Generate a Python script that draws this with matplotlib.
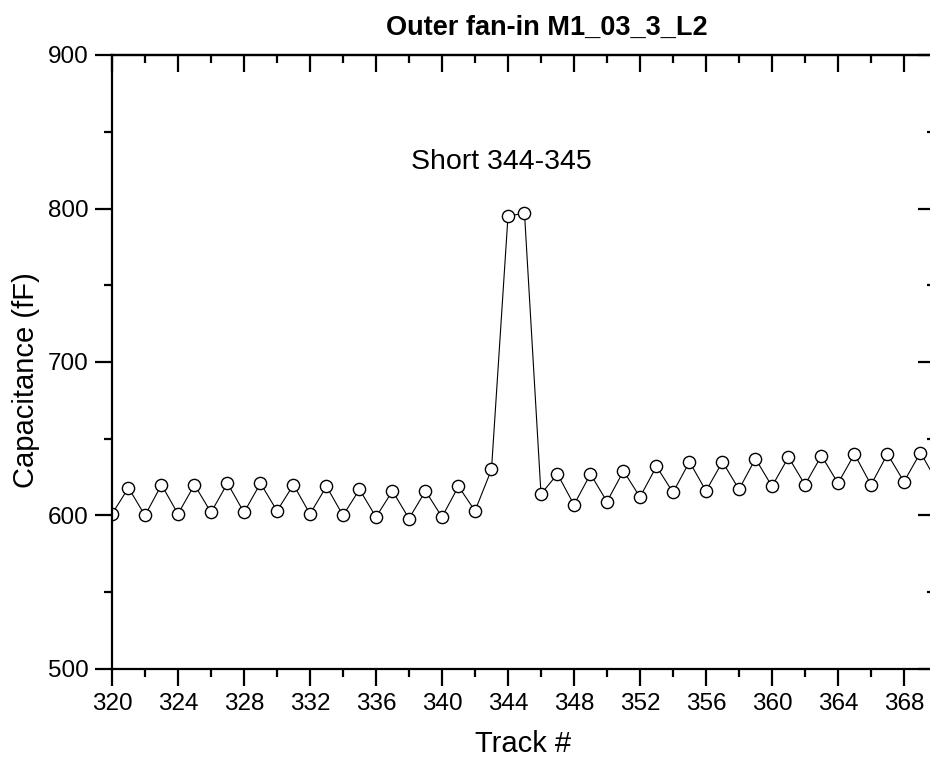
import matplotlib
matplotlib.use("Agg")
import matplotlib.pyplot as plt
from matplotlib.ticker import MultipleLocator

plt.rcParams["font.family"] = ["Liberation Sans", "DejaVu Sans"]

# Daten
track = list(range(320, 371))
cap = [
    601, 618, 600, 620, 601, 620, 602, 621, 602, 621,
    603, 620, 601, 619, 600, 617, 599, 616, 598, 616,
    599, 619, 603, 630, 795, 797, 614, 627, 607, 627,
    609, 629, 612, 632, 615, 635, 616, 635, 617, 637,
    619, 638, 620, 639, 621, 640, 620, 640, 622, 641,
    622,
]
title = "Outer fan-in M1_03_3_L2"
note = "Short 344-345"

fig = plt.figure(figsize=(9.3, 7.58), dpi=100)
ax = fig.add_axes([112 / 930, 89 / 758, 823 / 930, 614 / 758])

ax.plot(track, cap, color="black", linewidth=0.8, marker="o",
        markersize=8.8, markerfacecolor="white", markeredgecolor="black",
        markeredgewidth=1.0)

ax.set_xlim(320, 369.88)
ax.set_ylim(500, 900)
ax.xaxis.set_major_locator(MultipleLocator(4))
ax.xaxis.set_minor_locator(MultipleLocator(2))
ax.yaxis.set_major_locator(MultipleLocator(100))
ax.yaxis.set_minor_locator(MultipleLocator(50))

for s in ax.spines.values():
    s.set_linewidth(1.6)

# aussen unten/links, innen oben/rechts
ax.tick_params(axis="both", which="major", length=12, width=1.6,
               labelsize=17.5, direction="out", pad=5)
ax.tick_params(axis="both", which="minor", length=6, width=1.6, direction="out")

top = ax.secondary_xaxis("top")
top.xaxis.set_major_locator(MultipleLocator(4))
top.xaxis.set_minor_locator(MultipleLocator(2))
top.tick_params(which="major", direction="in", length=12, width=1.6, labeltop=False)
top.tick_params(which="minor", direction="in", length=6, width=1.6)
top.spines["top"].set_linewidth(1.6)

right = ax.secondary_yaxis("right")
right.yaxis.set_major_locator(MultipleLocator(100))
right.yaxis.set_minor_locator(MultipleLocator(50))
right.tick_params(which="major", direction="in", length=12, width=1.6, labelright=False)
right.tick_params(which="minor", direction="in", length=6, width=1.6)

ax.set_xlabel("Track #", fontsize=21, labelpad=11)
ax.set_ylabel("Capacitance (fF)", fontsize=21)
ax.yaxis.set_label_coords(-0.087, 0.47)

fig.text(547 / 930, 1 - 35 / 758, title, ha="center", va="baseline",
         fontsize=19.5, fontweight="bold")
ax.text(343.6, 826, note, ha="center", va="baseline", fontsize=20.5)

fig.savefig("out.png", dpi=100)
